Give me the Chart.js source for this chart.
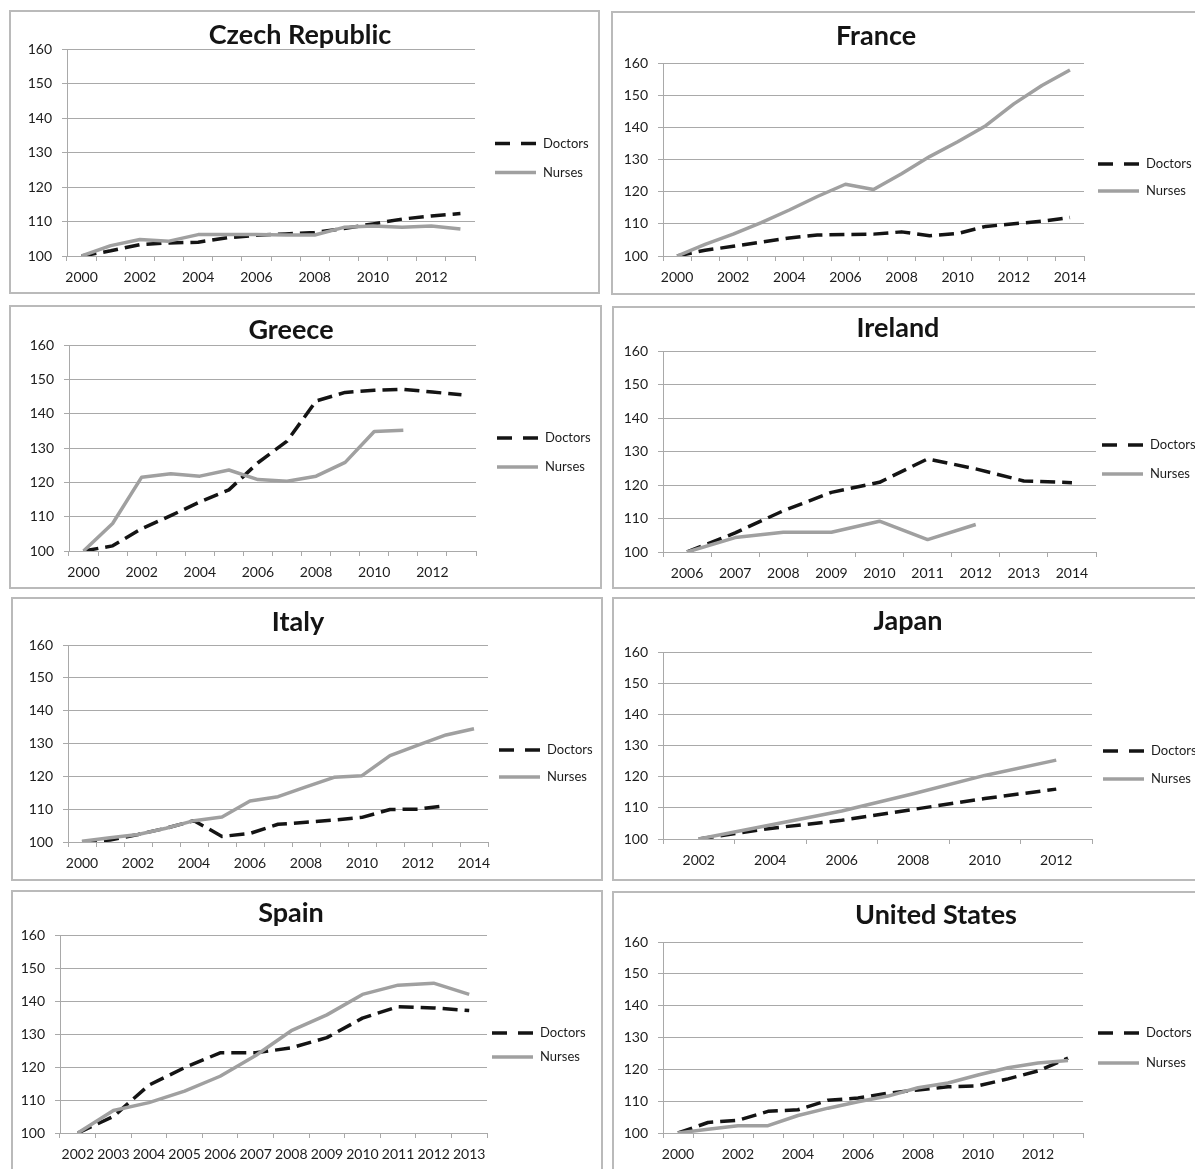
<!DOCTYPE html>
<html>
<head>
<meta charset="utf-8">
<script src="https://cdn.jsdelivr.net/npm/chart.js@4/dist/chart.umd.min.js"></script>
<style>
  html, body { margin: 0; padding: 0; width: 1195px; height: 1169px; overflow: hidden; background: #ffffff; }
  canvas { position: absolute; }
  .frame { position: absolute; box-sizing: border-box; border: 2px solid #bababa; pointer-events: none; }
</style>
</head>
<body>
<script>
// Growth in the number of doctors and nurses, index (first year = 100)

const yTicks = [100, 110, 120, 130, 140, 150, 160];

// Czech Republic
const yearsCZ = ['2000','2001','2002','2003','2004','2005','2006','2007','2008','2009','2010','2011','2012','2013'];
const doctorsCZ = [100, 101.5, 103.3, 103.8, 104, 105.3, 106, 106.4, 106.8, 108, 109.3, 110.7, 111.6, 112.3];
const nursesCZ  = [100, 103, 104.8, 104.3, 106.2, 106.2, 106.2, 106.1, 106.1, 108.3, 108.7, 108.3, 108.7, 107.8];

// France
const yearsFR = ['2000','2001','2002','2003','2004','2005','2006','2007','2008','2009','2010','2011','2012','2013','2014'];
const doctorsFR = [100, 101.8, 103, 104.3, 105.6, 106.5, 106.7, 106.8, 107.5, 106.3, 107, 109.2, 110, 110.8, 112];
const nursesFR  = [100, 103.6, 106.8, 110.4, 114.3, 118.5, 122.3, 120.7, 125.6, 130.9, 135.5, 140.5, 147.3, 153, 157.8];

// Greece
const yearsGR = ['2000','2001','2002','2003','2004','2005','2006','2007','2008','2009','2010','2011','2012','2013'];
const doctorsGR = [100, 101.5, 106.5, 110.3, 114.3, 117.8, 125.7, 132, 143.7, 146.2, 146.8, 147.1, 146.3, 145.5];
const nursesGR  = [100, 108, 121.5, 122.5, 121.8, 123.6, 120.8, 120.3, 121.8, 125.8, 134.8, 135.2];

// Ireland
const yearsIE = ['2006','2007','2008','2009','2010','2011','2012','2013','2014'];
const doctorsIE = [100, 105.7, 112.3, 117.8, 120.8, 127.8, 124.8, 121.2, 120.7];
const nursesIE  = [100, 104.3, 105.9, 105.9, 109.2, 103.7, 108.2];

// Italy
const yearsIT = ['2000','2001','2002','2003','2004','2005','2006','2007','2008','2009','2010','2011','2012','2013','2014'];
const doctorsIT = [100, 100.6, 102.3, 104.2, 106.5, 101.7, 102.6, 105.4, 106, 106.7, 107.5, 109.9, 110, 111.1];
const nursesIT  = [100.2, 101.3, 102.3, 104.2, 106.5, 107.6, 112.5, 113.8, 116.8, 119.7, 120.2, 126.3, 129.5, 132.6, 134.5];

// Japan
const yearsJP = ['2002','2004','2006','2008','2010','2012'];
const doctorsJP = [100, 103.4, 106, 109.5, 113, 116];
const nursesJP  = [100, 104.5, 109, 114.5, 120.4, 125.3];

// Spain
const yearsES = ['2002','2003','2004','2005','2006','2007','2008','2009','2010','2011','2012','2013'];
const doctorsES = [100, 105, 114.5, 119.8, 124.3, 124.3, 125.8, 128.9, 134.8, 138.3, 137.9, 137.1];
const nursesES  = [100, 106.8, 109.2, 112.7, 117.2, 123.5, 131, 135.8, 142, 144.8, 145.4, 142];

// United States
const yearsUS = ['2000','2001','2002','2003','2004','2005','2006','2007','2008','2009','2010','2011','2012','2013'];
const doctorsUS = [100, 103.3, 104, 106.8, 107.3, 110.3, 111, 112.5, 113.5, 114.5, 114.8, 117, 119.5, 123.5];
const nursesUS  = [100, 101.2, 102.3, 102.3, 105.5, 107.8, 109.8, 111.6, 114.2, 115.7, 118.2, 120.5, 122, 122.8];

// ---- panel layout (page pixels) ----
const panels = [
  { name: 'Czech Republic', years: yearsCZ, doctors: doctorsCZ, nurses: nursesCZ, step: 2,
    box: { l: 9, t: 10, r: 600, b: 294 }, plot: { l: 67, t: 49, r: 475, b: 256 },
    title: { x: 300, y: 35 }, legend: { x: 495, rows: [143.5, 172.5] } },
  { name: 'France', years: yearsFR, doctors: doctorsFR, nurses: nursesFR, step: 2,
    box: { l: 611, t: 11, r: 1215, b: 295 }, plot: { l: 663, t: 63, r: 1084, b: 256 },
    title: { x: 876, y: 36 }, legend: { x: 1098, rows: [164, 191] } },
  { name: 'Greece', years: yearsGR, doctors: doctorsGR, nurses: nursesGR, step: 2,
    box: { l: 9, t: 305, r: 602, b: 589 }, plot: { l: 69, t: 345, r: 476, b: 551 },
    title: { x: 291, y: 330 }, legend: { x: 497, rows: [438, 467] } },
  { name: 'Ireland', years: yearsIE, doctors: doctorsIE, nurses: nursesIE, step: 1,
    box: { l: 612, t: 306, r: 1215, b: 589 }, plot: { l: 663, t: 351, r: 1096, b: 552 },
    title: { x: 898, y: 328 }, legend: { x: 1102, rows: [445, 474] } },
  { name: 'Italy', years: yearsIT, doctors: doctorsIT, nurses: nursesIT, step: 2,
    box: { l: 11, t: 597, r: 603, b: 881 }, plot: { l: 68, t: 645, r: 488, b: 842 },
    title: { x: 298, y: 622 }, legend: { x: 499, rows: [750, 777] } },
  { name: 'Japan', years: yearsJP, doctors: doctorsJP, nurses: nursesJP, step: 1,
    box: { l: 612, t: 597, r: 1215, b: 881 }, plot: { l: 663, t: 652, r: 1092, b: 839 },
    title: { x: 908, y: 621 }, legend: { x: 1103, rows: [751, 779] } },
  { name: 'Spain', years: yearsES, doctors: doctorsES, nurses: nursesES, step: 1,
    box: { l: 11, t: 890, r: 603, b: 1190 }, plot: { l: 60, t: 935, r: 487, b: 1133 },
    title: { x: 291, y: 913 }, legend: { x: 492, rows: [1033, 1057] } },
  { name: 'United States', years: yearsUS, doctors: doctorsUS, nurses: nursesUS, step: 2,
    box: { l: 612, t: 891, r: 1215, b: 1190 }, plot: { l: 663, t: 942, r: 1083, b: 1133 },
    title: { x: 936, y: 915 }, legend: { x: 1098, rows: [1033, 1063] } }
];

const GRID = '#a9a9a9';
const TEXT = '#1c1c1c';
const FONT = 'Lato, "Open Sans", sans-serif';

// Title drawn at a fixed spot above the plot
const panelTitle = {
  id: 'panelTitle',
  afterDraw(chart, args, opts) {
    const ctx = chart.ctx;
    ctx.save();
    ctx.font = 'bold 27px ' + FONT;
    ctx.fillStyle = '#141414';
    ctx.textAlign = 'center';
    ctx.textBaseline = 'middle';
    ctx.fillText(opts.text, opts.x, opts.y);
    ctx.restore();
  }
};

// Legend on the right: line sample followed by the series name
const sideLegend = {
  id: 'sideLegend',
  afterDraw(chart, args, opts) {
    const ctx = chart.ctx;
    chart.data.datasets.forEach((ds, i) => {
      const y = opts.rows[i];
      ctx.save();
      ctx.strokeStyle = ds.borderColor;
      ctx.lineWidth = ds.borderWidth;
      ctx.setLineDash(ds.borderDash ? [15, 11] : []);
      ctx.beginPath();
      ctx.moveTo(opts.x, y);
      ctx.lineTo(opts.x + 41, y);
      ctx.stroke();
      ctx.setLineDash([]);
      ctx.fillStyle = TEXT;
      ctx.font = '13px ' + FONT;
      ctx.textAlign = 'left';
      ctx.textBaseline = 'middle';
      ctx.fillText(ds.label, opts.x + 48, y);
      ctx.restore();
    });
  }
};

panels.forEach(p => {
  const w = p.box.r - p.box.l;
  const h = p.box.b - p.box.t;

  const canvas = document.createElement('canvas');
  canvas.width = w;
  canvas.height = h;
  canvas.style.left = p.box.l + 'px';
  canvas.style.top = p.box.t + 'px';
  canvas.style.width = w + 'px';
  canvas.style.height = h + 'px';
  document.body.appendChild(canvas);

  const frame = document.createElement('div');
  frame.className = 'frame';
  frame.style.left = p.box.l + 'px';
  frame.style.top = p.box.t + 'px';
  frame.style.width = w + 'px';
  frame.style.height = h + 'px';
  document.body.appendChild(frame);

  new Chart(canvas, {
    type: 'line',
    data: {
      labels: p.years,
      datasets: [
        { label: 'Doctors', data: p.doctors, borderColor: '#141414', borderWidth: 3.5,
          borderDash: [15, 7], borderJoinStyle: 'round', pointRadius: 0, tension: 0, fill: false, order: 1 },
        { label: 'Nurses', data: p.nurses, borderColor: '#a0a0a0', borderWidth: 3.5,
          borderJoinStyle: 'round', pointRadius: 0, tension: 0, fill: false, order: 0 }
      ]
    },
    options: {
      responsive: false,
      animation: false,
      events: [],
      devicePixelRatio: 1,
      layout: { padding: { left: 0, top: p.plot.t - p.box.t, right: p.box.r - p.plot.r, bottom: 0 } },
      plugins: {
        legend: { display: false },
        tooltip: { enabled: false },
        title: { display: false },
        panelTitle: { text: p.name, x: p.title.x - p.box.l, y: p.title.y - p.box.t },
        sideLegend: { x: p.legend.x - p.box.l, rows: p.legend.rows.map(r => r - p.box.t) }
      },
      scales: {
        x: {
          type: 'category',
          offset: true,
          grid: { offset: true, drawOnChartArea: false, drawTicks: true, tickLength: 5, color: GRID, lineWidth: 1 },
          border: { display: true, color: GRID, width: 1 },
          ticks: {
            autoSkip: false, maxRotation: 0, minRotation: 0, padding: 8, color: TEXT,
            font: { family: FONT, size: 14 },
            callback: function (v, i) { return i % p.step === 0 ? this.getLabelForValue(v) : ''; }
          },
          afterFit: s => { s.height = p.box.b - p.plot.b; }
        },
        y: {
          min: yTicks[0],
          max: yTicks[yTicks.length - 1],
          ticks: { stepSize: yTicks[1] - yTicks[0], padding: 10, color: TEXT, font: { family: FONT, size: 14 } },
          grid: { color: GRID, lineWidth: 1, tickLength: 5 },
          border: { display: true, color: GRID, width: 1 },
          afterFit: s => { s.width = p.plot.l - p.box.l; }
        }
      }
    },
    plugins: [panelTitle, sideLegend]
  });
});
</script>
</body>
</html>
